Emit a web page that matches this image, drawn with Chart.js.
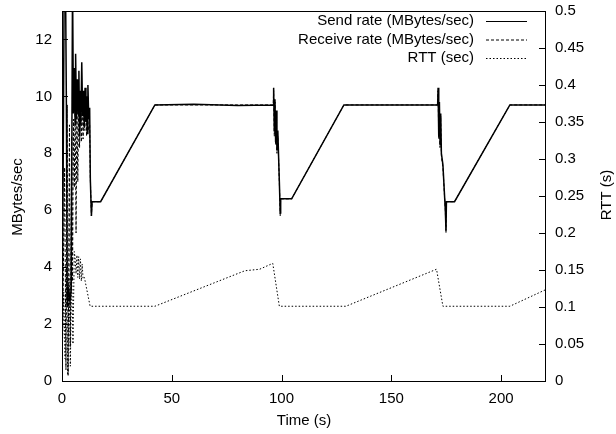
<!DOCTYPE html>
<html>
<head>
<meta charset="utf-8">
<script src="https://cdn.jsdelivr.net/npm/chart.js@4.4.1/dist/chart.umd.min.js"></script>
<style>
  body { margin: 0; background: #fff; }
</style>
</head>
<body>
<canvas id="rttChart" width="616" height="434"></canvas>
<script>
// send rate (MBytes/sec)
const sendTime = [0, 1.0, 1.6, 2.0, 2.4, 3.0, 3.6, 4.2, 4.8, 5.2, 5.6, 6.0, 6.2, 6.6, 7.0, 7.4, 7.7, 8.0, 8.3, 8.6, 9.0, 9.4, 9.8, 10.1, 10.5, 10.9, 11.2, 11.5, 11.8, 12.2, 12.6, 12.9, 13.4, 13.7, 17.6, 42.3, 60, 80, 96.2, 96.4, 96.7, 97.0, 97.3, 97.6, 97.9, 98.3, 99.0, 99.4, 99.6, 104.6, 128.4, 150, 171.1, 171.3, 171.6, 171.9, 172.2, 172.5, 172.8, 173.5, 174.6, 174.9, 175.1, 178.8, 204, 220];
const sendRate = [0, 14, 14, 9.7, 2.6, 3.3, 2.8, 3.2, 14, 9.4, 11.0, 9.0, 11.5, 9.2, 10.6, 9.4, 10.9, 8.6, 10.2, 9.0, 11.2, 9.3, 10.2, 8.9, 10.3, 9.1, 10.0, 8.7, 10.4, 9.2, 9.6, 7.1, 5.8, 6.3, 6.3, 9.7, 9.72, 9.68, 9.7, 10.3, 8.8, 9.9, 8.4, 9.5, 8.1, 8.8, 7.0, 5.9, 6.4, 6.4, 9.7, 9.7, 9.7, 10.3, 8.6, 9.8, 8.3, 9.4, 8.0, 7.6, 6.0, 5.3, 6.3, 6.3, 9.7, 9.7];

// receive rate (MBytes/sec)
const recvTime = [0, 1.2, 1.8, 2.4, 2.8, 3.4, 3.8, 4.4, 4.8, 5.2, 5.6, 6.0, 6.4, 6.8, 7.2, 7.6, 8.0, 8.4, 8.8, 9.2, 9.6, 10.0, 10.4, 10.8, 11.2, 11.6, 12.0, 12.6, 12.9, 13.4, 13.7, 17.6, 42.3, 60, 80, 96.2, 96.4, 96.7, 97.0, 97.3, 97.6, 97.9, 98.3, 99.0, 99.4, 99.6, 104.6, 128.4, 150, 171.1, 171.3, 171.6, 171.9, 172.2, 172.5, 172.8, 173.5, 174.6, 174.9, 175.1, 178.8, 204, 220];
const recvRate = [0, 7.5, 0.4, 9.7, 0.2, 9.0, 1.2, 8.6, 3.5, 9.2, 6.8, 9.8, 5.2, 9.6, 7.0, 9.8, 8.2, 9.6, 8.4, 9.9, 8.5, 9.6, 8.8, 9.8, 8.6, 9.5, 8.8, 9.0, 7.1, 5.8, 6.3, 6.3, 9.7, 9.7, 9.7, 9.7, 10.2, 8.6, 9.8, 8.3, 9.4, 8.0, 8.6, 7.0, 5.8, 6.4, 6.4, 9.7, 9.7, 9.7, 10.2, 8.5, 9.7, 8.2, 9.3, 7.9, 7.5, 6.0, 5.2, 6.3, 6.3, 9.7, 9.7];

// round trip time (sec), right axis
const rttTime = [0, 0.8, 1.4, 2.0, 2.6, 3.2, 3.8, 4.4, 5.0, 5.6, 6.0, 6.4, 6.8, 7.2, 7.6, 8.0, 8.4, 8.8, 9.2, 9.6, 10.2, 12.8, 42.3, 83.3, 90, 96, 99, 129.3, 170.6, 173.5, 204, 220];
const rtt = [0.02, 0.12, 0.03, 0.16, 0.008, 0.14, 0.02, 0.15, 0.05, 0.175, 0.165, 0.145, 0.17, 0.14, 0.168, 0.138, 0.165, 0.135, 0.158, 0.138, 0.14, 0.101, 0.101, 0.149, 0.151, 0.159, 0.101, 0.101, 0.151, 0.101, 0.101, 0.123];

const seriesLabels = ['Send rate (MBytes/sec)', 'Receive rate (MBytes/sec)', 'RTT (sec)'];
const xTicks = [0, 50, 100, 150, 200];

const FONT = '"Liberation Sans", Arial, Helvetica, sans-serif';

function toPoints(xs, ys) {
    return xs.map((x, i) => ({ x: x, y: ys[i] }));
}

// gnuplot-like frame, inward ticks, axis titles and key
const gnuplotLook = {
    id: 'gnuplotLook',
    afterDraw(chart) {
        const ctx = chart.ctx;
        const a = chart.chartArea;
        const sx = chart.scales.x, sy = chart.scales.y, sy2 = chart.scales.y2;
        ctx.save();
        ctx.strokeStyle = '#000';
        ctx.lineWidth = 1;
        ctx.strokeRect(Math.round(a.left) + 0.5, Math.round(a.top) + 0.5,
            Math.round(a.right - a.left), Math.round(a.bottom - a.top));
        ctx.beginPath();
        sx.ticks.forEach(t => {
            const p = Math.round(sx.getPixelForValue(t.value)) + 0.5;
            ctx.moveTo(p, a.bottom); ctx.lineTo(p, a.bottom - 6);
        });
        sy.ticks.forEach(t => {
            const p = Math.round(sy.getPixelForValue(t.value)) + 0.5;
            ctx.moveTo(a.left, p); ctx.lineTo(a.left + 6, p);
        });
        sy2.ticks.forEach(t => {
            const p = Math.round(sy2.getPixelForValue(t.value)) + 0.5;
            ctx.moveTo(a.right, p); ctx.lineTo(a.right - 6, p);
        });
        ctx.stroke();

        ctx.fillStyle = '#000';
        ctx.font = '15px ' + FONT;
        ctx.textBaseline = 'middle';
        ctx.textAlign = 'center';
        ctx.fillText('Time (s)', 304, 421);
        ctx.save();
        ctx.translate(18, 197);
        ctx.rotate(-Math.PI / 2);
        ctx.fillText('MBytes/sec', 0, 0);
        ctx.restore();
        ctx.save();
        ctx.translate(607, 195);
        ctx.rotate(-Math.PI / 2);
        ctx.fillText('RTT (s)', 0, 0);
        ctx.restore();

        // key, top right inside the plot
        ctx.textAlign = 'right';
        chart.data.datasets.forEach((ds, i) => {
            const y = 21 + i * 18.5;
            ctx.fillText(ds.label, 474, y);
            ctx.beginPath();
            ctx.setLineDash(ds.borderDash || []);
            ctx.lineWidth = 1;
            ctx.moveTo(486, y + 0.5); ctx.lineTo(527, y + 0.5);
            ctx.stroke();
        });
        ctx.restore();
    }
};

function fixY(width) {
    return s => { s.width = width; s.paddingTop = 0; s.paddingBottom = 0; };
}

const ctx = document.getElementById('rttChart').getContext('2d');
new Chart(ctx, {
    type: 'line',
    data: {
        datasets: [{
            label: seriesLabels[0],
            data: toPoints(sendTime, sendRate),
            yAxisID: 'y',
            borderColor: '#000',
            borderWidth: 1.5,
            pointRadius: 0,
            tension: 0
        }, {
            label: seriesLabels[1],
            data: toPoints(recvTime, recvRate),
            yAxisID: 'y',
            borderColor: '#000',
            borderWidth: 1,
            borderDash: [3, 2],
            pointRadius: 0,
            tension: 0
        }, {
            label: seriesLabels[2],
            data: toPoints(rttTime, rtt),
            yAxisID: 'y2',
            borderColor: '#000',
            borderWidth: 1,
            borderDash: [1.5, 2],
            pointRadius: 0,
            tension: 0
        }]
    },
    options: {
        responsive: false,
        animation: false,
        layout: { padding: { top: 11, left: 0, right: 0, bottom: 0 } },
        plugins: {
            legend: { display: false },
            tooltip: { enabled: false }
        },
        scales: {
            x: {
                type: 'linear',
                min: 0,
                max: 220,
                afterBuildTicks: s => { s.ticks = xTicks.map(v => ({ value: v })); },
                afterFit: s => { s.height = 53; s.paddingLeft = 0; s.paddingRight = 0; },
                grid: { display: false, drawTicks: false },
                border: { display: false },
                ticks: { color: '#000', padding: 9, font: { size: 15, family: FONT } }
            },
            y: {
                position: 'left',
                min: 0,
                max: 13,
                afterFit: fixY(62),
                grid: { display: false, drawTicks: false },
                border: { display: false },
                ticks: { stepSize: 2, includeBounds: false, color: '#000', padding: 10, font: { size: 15, family: FONT } }
            },
            y2: {
                position: 'right',
                min: 0,
                max: 0.5,
                afterFit: fixY(71),
                grid: { display: false, drawTicks: false },
                border: { display: false },
                ticks: {
                    stepSize: 0.05,
                    color: '#000',
                    padding: 10,
                    font: { size: 15, family: FONT },
                    callback: v => String(+v.toFixed(2))
                }
            }
        }
    },
    plugins: [gnuplotLook]
});
</script>
</body>
</html>
